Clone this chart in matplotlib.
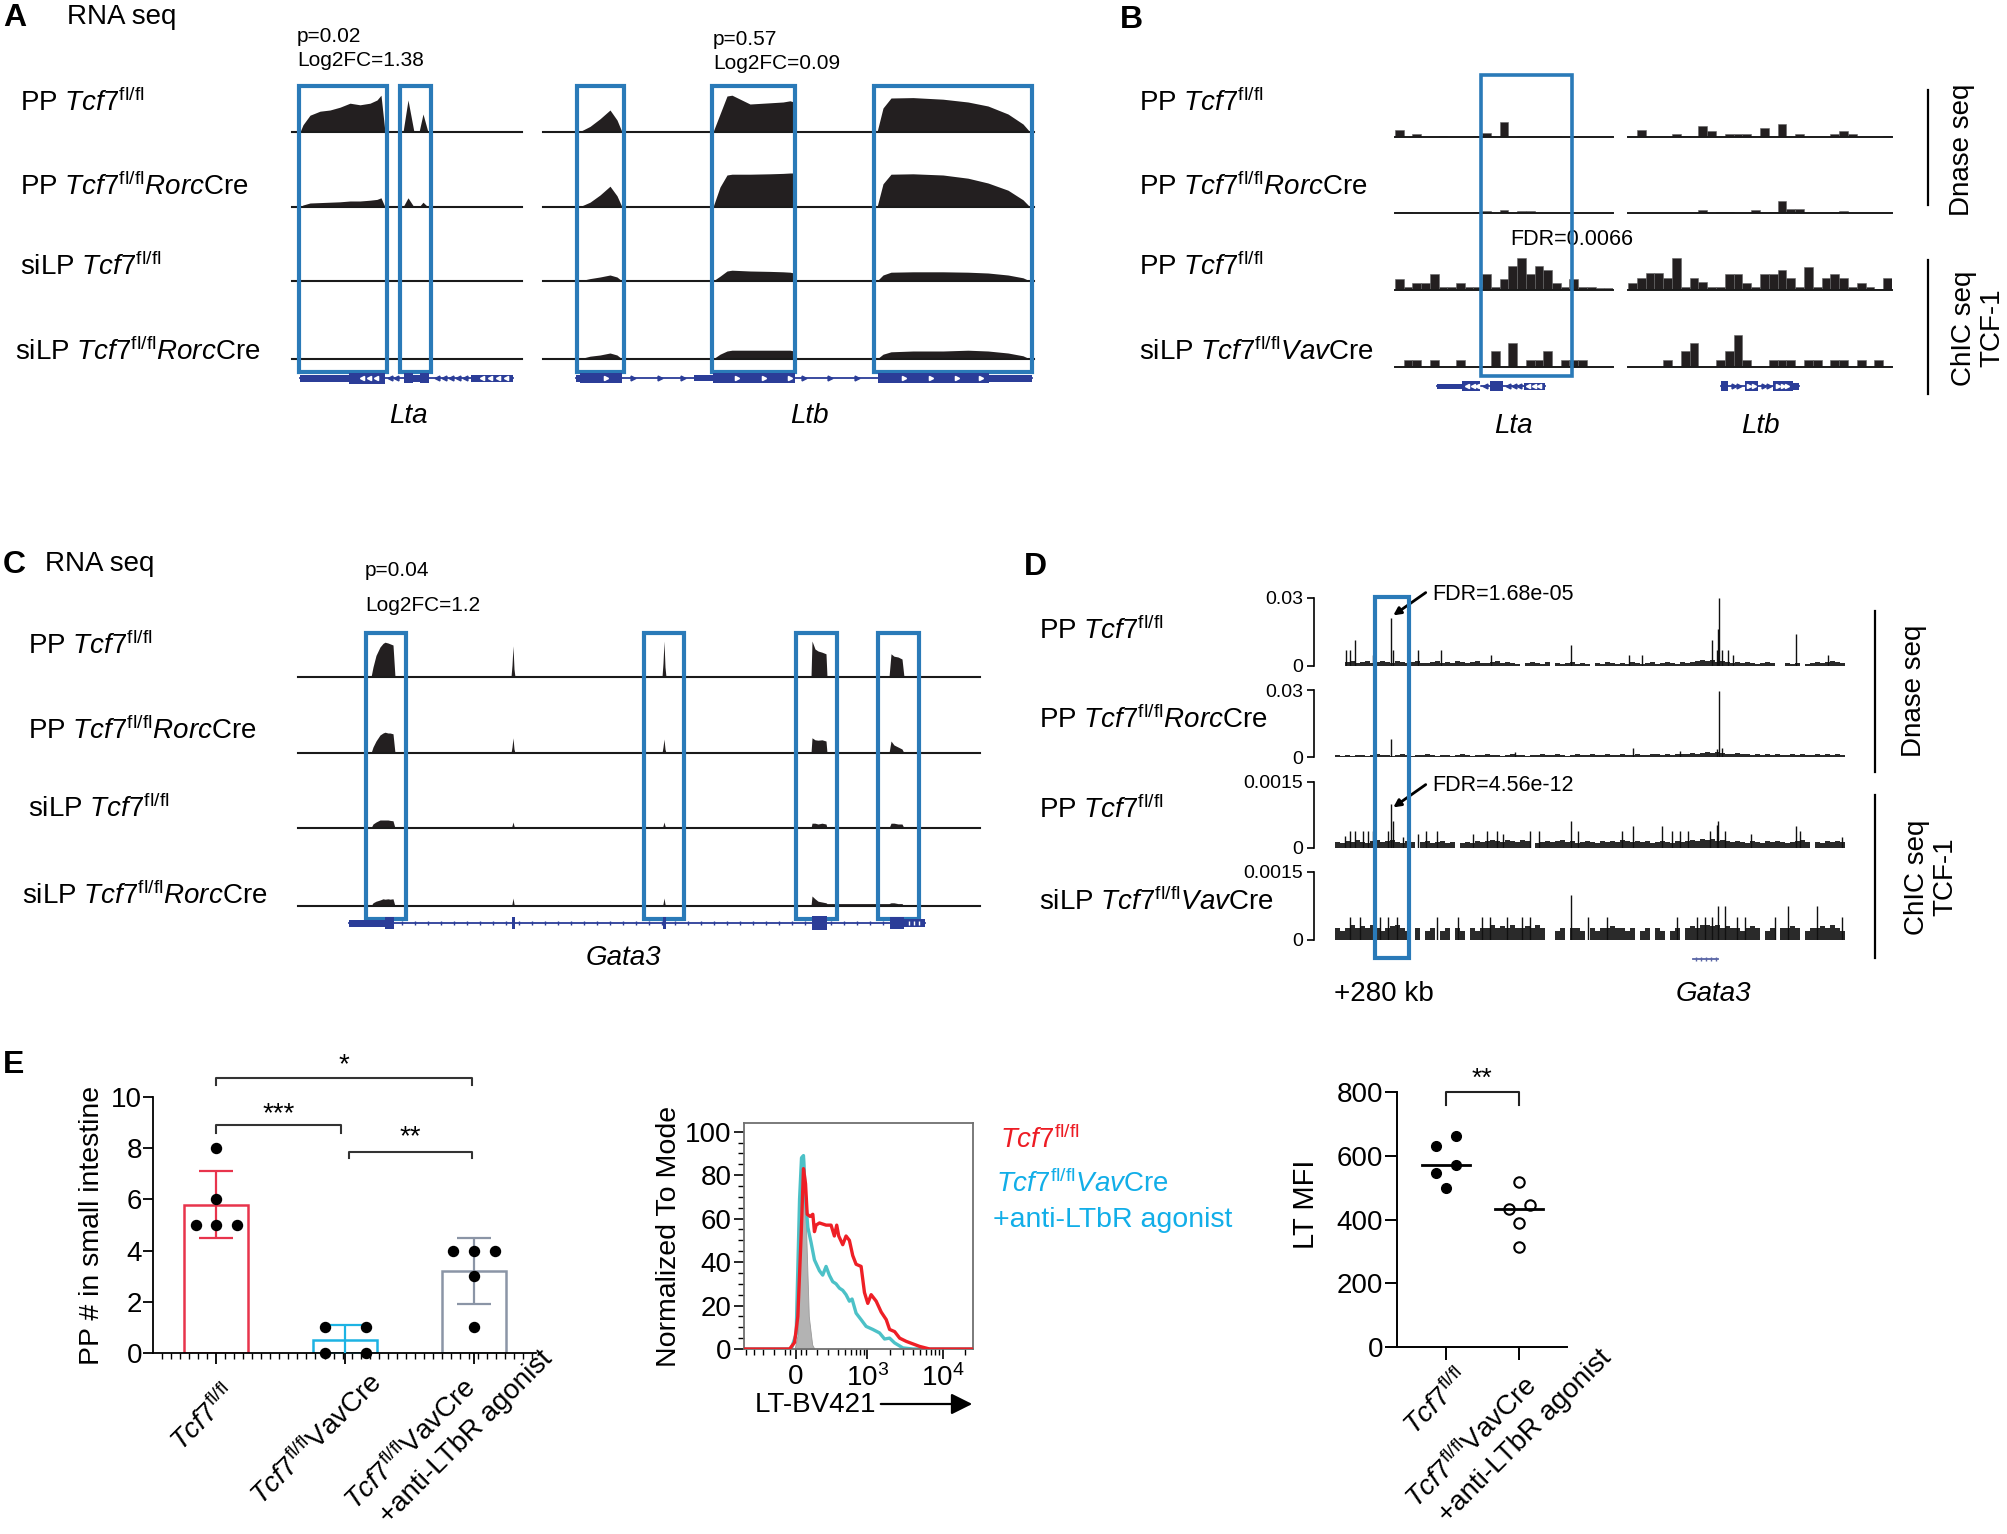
import numpy as np
import matplotlib
matplotlib.use('Agg')
import matplotlib.pyplot as plt
from matplotlib.patches import Rectangle
from matplotlib.ticker import FixedLocator

plt.rcParams['font.family'] = ['Liberation Sans', 'DejaVu Sans']
plt.rcParams['mathtext.fontset'] = 'custom'
plt.rcParams['mathtext.rm'] = 'Liberation Sans'
plt.rcParams['mathtext.it'] = 'Liberation Sans:italic'
plt.rcParams['mathtext.bf'] = 'Liberation Sans:bold'

# ---------------- labels ----------------
TCF = r'$\mathit{Tcf7}^{\mathrm{fl/fl}}$'
TCF_RORC = r'$\mathit{Tcf7}^{\mathrm{fl/fl}}\mathit{Rorc}$Cre'
TCF_VAV = r'$\mathit{Tcf7}^{\mathrm{fl/fl}}\mathit{Vav}$Cre'
LABELS_AC = ['PP ' + TCF, 'PP ' + TCF_RORC, 'siLP ' + TCF, 'siLP ' + TCF_RORC]
LABELS_BD = ['PP ' + TCF, 'PP ' + TCF_RORC, 'PP ' + TCF, 'siLP ' + TCF_VAV]

# ---------------- A: RNA seq, Lta / Ltb (normalised coverage) ----------------
LTA_POS = [8, 11, 18, 28, 38, 48, 58, 68, 78, 85, 89, 93, 111, 116, 122, 127, 131, 136]
LTA_RNA = [
    [0, .18, .42, .52, .55, .62, .72, .68, .72, .80, .92, 0, 0, .80, 0, 0, .45, 0],
    [0, .05, .10, .11, .12, .13, .15, .15, .17, .19, .23, 0, 0, .23, 0, 0, .12, 0],
    [0, .02, .03, .03, .03, .03, .03, .03, .03, .03, .03, 0, 0, .03, 0, 0, .02, 0],
    [0, .02, .02, .02, .03, .02, .03, .02, .03, .03, .03, 0, 0, .02, 0, 0, .02, 0],
]
LTB_POS = [36, 47, 57, 67, 74, 79,
           170, 177, 184, 189, 207, 227, 240, 247, 251, 252,
           334, 340, 348, 370, 400, 425, 445, 465, 480, 487]
LTB_RNA = [
    [0, .14, .33, .55, .30, 0, 0, .45, .90, .92, .70, .73, .75, .78, .75, 0,
     0, .60, .85, .86, .82, .75, .65, .45, .20, 0],
    [0, .12, .30, .52, .28, 0, 0, .50, .80, .82, .82, .83, .84, .85, .85, 0,
     0, .58, .82, .83, .80, .72, .60, .42, .18, 0],
    [0, .06, .10, .15, .10, 0, 0, .12, .25, .27, .25, .24, .23, .22, .20, 0,
     0, .15, .22, .23, .23, .22, .20, .15, .08, 0],
    [0, .07, .10, .15, .10, 0, 0, .12, .20, .22, .22, .22, .22, .22, .20, 0,
     0, .12, .18, .20, .20, .22, .20, .15, .08, 0],
]
LTA_EXONS_HL = [(7, 95), (108, 139)]
LTB_EXONS_HL = [(34, 81), (169, 252), (331, 489)]

# ---------------- B: Dnase / ChIC bins ----------------
B_LTA = [
    [7, 0, 3, 0, 0, 1, 0, 0, 0, 1, 4, 0, 15, 0, 1, 1, 1, 1, 1, 0, 0, 0, 0, 0, 0],
    [1, 1, 0, 0, 0, 0, 0, 0, 0, 1, 2, 0, 3, 0, 2, 2, 0, 0, 0, 0, 0, 0, 0, 0, 0],
    [11, 3, 7, 7, 16, 3, 3, 7, 3, 3, 16, 3, 11, 24, 32, 16, 24, 20, 7, 3, 11, 3, 3, 2, 2],
    [0, 7, 7, 0, 7, 0, 0, 7, 0, 0, 0, 16, 0, 24, 0, 7, 7, 16, 0, 7, 7, 7, 0, 0, 0],
]
B_LTB = [
    [0, 7, 0, 0, 0, 3, 1, 0, 11, 6, 0, 3, 3, 3, 0, 9, 0, 13, 0, 3, 0, 0, 0, 3, 6, 3, 0, 0, 0, 1],
    [0, 0, 0, 0, 0, 0, 0, 0, 3, 0, 1, 1, 0, 0, 3, 0, 1, 12, 4, 4, 0, 0, 0, 1, 2, 0, 0, 0, 0, 0],
    [7, 12, 17, 17, 12, 32, 3, 12, 8, 3, 3, 16, 16, 7, 3, 16, 16, 20, 12, 3, 23, 3, 12, 16, 12, 3, 7, 3, 1, 12],
    [0, 0, 0, 0, 7, 0, 16, 24, 0, 0, 7, 16, 32, 7, 0, 0, 7, 7, 7, 0, 7, 7, 0, 7, 7, 0, 7, 0, 7, 0],
]
B_LTA_HL = (9.9, 20.3)

# ---------------- C: RNA seq, Gata3 ----------------
GATA3_POS = [73, 75, 78, 82, 85, 87, 90, 92, 95, 97,
             213, 214, 215, 216, 217,
             364, 365, 366, 367, 368,
             513, 514, 517, 520, 524, 528, 529,
             591, 593, 596, 600, 604, 606]
GATA3_RNA = [
    [0, .25, .54, .75, .84, .87, .85, .83, .80, 0, 0, .30, .78, .20, 0, 0, .35, .90, .25, 0,
     0, .90, .70, .65, .62, .58, 0, 0, .58, .52, .50, .45, 0],
    [0, .15, .30, .45, .50, .52, .50, .50, .48, 0, 0, .15, .38, .10, 0, 0, .15, .35, .10, 0,
     0, .38, .33, .32, .33, .30, 0, 0, .30, .20, .15, .10, 0],
    [0, .10, .15, .20, .20, .20, .20, .19, .18, 0, 0, .05, .15, .05, 0, 0, .05, .15, .05, 0,
     0, .12, .12, .10, .12, .10, 0, 0, .12, .12, .10, .10, 0],
    [0, .08, .12, .15, .18, .17, .18, .17, .18, 0, 0, .05, .20, .05, 0, 0, .05, .20, .05, 0,
     0, .25, .18, .12, .10, .08, .06, .06, .08, .08, .06, .06, 0],
]
GATA3_EXONS_HL = [(68, 108), (346, 386), (498, 539), (580, 621)]

# ---------------- D: +280 kb region (Dnase x1e-4, ChIC x1e-5) ----------------
D1_BAND = [0, 0, 18, 22, 13, 18, 22, 13, 18, 22,
           18, 13, 22, 18, 13, 18, 22, 13, 13, 18,
           22, 13, 18, 13, 22, 18, 13, 18, 22, 13,
           13, 18, 22, 13, 18, 13, 9, 0, 13, 18,
           13, 9, 18, 0, 13, 9, 13, 18, 9, 13,
           9, 0, 13, 9, 18, 13, 9, 13, 9, 18,
           13, 9, 13, 18, 9, 13, 18, 13, 9, 18,
           13, 18, 22, 26, 22, 26, 18, 22, 18, 13,
           18, 13, 18, 13, 9, 13, 18, 13, 0, 0,
           13, 9, 13, 0, 9, 13, 18, 13, 18, 22,
           18, 13]
D1_SPK_POS = [11, 15, 20, 38, 56, 58, 83, 106, 156, 236, 294, 307, 377, 382, 383, 384, 387, 393, 398, 461, 493]
D1_SPK_H = [71, 71, 115, 49, 212, 71, 71, 71, 49, 93, 49, 49, 115, 71, 163, 300, 71, 71, 49, 141, 49]
D2_BAND = [9, 4, 9, 4, 9, 9, 4, 9, 13, 9,
           9, 4, 9, 13, 9, 4, 9, 9, 13, 9,
           4, 9, 9, 4, 9, 13, 9, 4, 9, 9,
           13, 9, 9, 4, 9, 13, 9, 9, 4, 9,
           9, 13, 9, 9, 13, 9, 4, 9, 13, 9,
           9, 13, 9, 9, 13, 9, 9, 13, 9, 9,
           13, 9, 9, 13, 13, 9, 13, 9, 13, 13,
           13, 18, 13, 18, 22, 18, 22, 18, 13, 13,
           18, 13, 13, 9, 13, 9, 13, 9, 13, 9,
           9, 13, 9, 13, 9, 9, 13, 9, 13, 9,
           13, 9]
D2_SPK_POS = [56, 180, 298, 345, 382, 384, 387]
D2_SPK_H = [79, 22, 40, 26, 35, 295, 40]
D3_BAND = [14, 11, 16, 14, 18, 14, 11, 16, 18, 14,
           16, 18, 14, 11, 16, 14, 0, 14, 16, 11,
           14, 16, 11, 14, 0, 11, 14, 11, 16, 14,
           16, 18, 16, 14, 18, 16, 14, 18, 16, 0,
           11, 14, 16, 14, 16, 18, 14, 16, 11, 14,
           16, 14, 11, 16, 14, 16, 14, 18, 16, 14,
           16, 14, 16, 11, 14, 16, 14, 11, 16, 14,
           16, 18, 16, 20, 18, 20, 16, 18, 16, 14,
           16, 14, 11, 16, 14, 11, 16, 14, 16, 14,
           11, 14, 16, 18, 14, 0, 14, 11, 16, 14,
           16, 14]
D3_SPK_POS = [10, 15, 20, 28, 33, 38, 53, 56, 58, 68, 83, 91, 102, 138, 152, 162, 168, 195, 204,
              236, 243, 287, 298, 327, 337, 345, 353, 375, 382, 383, 390, 416, 461, 465, 507]
D3_SPK_H = [27, 39, 39, 39, 39, 39, 39, 100, 61, 25, 32, 39, 39, 32, 39, 39, 32, 39, 39,
            61, 39, 39, 50, 50, 39, 39, 39, 39, 52, 61, 39, 32, 50, 39, 25]
D4_BAND = [27, 20, 27, 32, 27, 30, 27, 32, 27, 20,
           27, 30, 32, 27, 20, 0, 27, 0, 20, 27,
           0, 20, 27, 0, 27, 20, 0, 27, 20, 27,
           27, 32, 27, 30, 27, 32, 27, 27, 30, 27,
           32, 27, 0, 0, 20, 27, 0, 27, 27, 20,
           0, 27, 20, 27, 27, 30, 27, 27, 20, 27,
           0, 20, 27, 0, 27, 20, 0, 20, 27, 0,
           27, 30, 27, 32, 32, 30, 32, 27, 30, 27,
           27, 20, 27, 30, 27, 0, 20, 27, 0, 27,
           27, 30, 27, 0, 20, 27, 27, 30, 27, 32,
           27, 20]
D4_SPK_POS = [15, 25, 45, 53, 62, 102, 123, 147, 155, 172, 187, 195, 236, 253, 272,
              342, 362, 370, 377, 383, 390, 402, 410, 440, 453, 482, 507]
D4_SPK_H = [50, 50, 50, 50, 50, 50, 50, 50, 50, 50, 50, 50, 100, 50, 50,
            50, 50, 50, 50, 75, 75, 50, 50, 50, 75, 75, 50]
D_HL = (40, 74)

# ---------------- E ----------------
E_GROUPS = [TCF, TCF + 'VavCre', TCF + 'VavCre\n+anti-LTbR agonist']
PP_COUNTS = [[8, 6, 5, 5, 5], [1, 1, 0, 0], [4, 4, 4, 3, 1]]
E_COLORS = ['#e8344c', '#1db3e3', '#8b95a6']

HIST_RED_X = [-536, -55, -9, 21, 52, 73, 92, 107, 134, 159, 174, 189, 220, 281, 328, 363, 390, 415,
              469, 519, 575, 637, 706, 823, 912, 1010, 1119, 1306, 1523, 1777, 1969, 2297, 2680,
              3280, 4930, 6710, 25300]
HIST_RED_Y = [0, 0, 3, 15, 53, 83, 76, 62, 61, 62, 54, 57, 58, 57, 57, 52, 57, 52,
              48, 52, 50, 43, 39, 38, 26, 21, 25, 22, 17, 13.5, 9, 8, 5,
              3.5, 1.2, 0, 0]
HIST_CYAN_X = [-536, -40, 6, 37, 55, 73, 92, 113, 143, 174, 220, 250, 281, 311, 345, 382, 424,
               469, 519, 575, 624, 706, 823, 960, 1177, 1447, 1688, 1969, 2297, 2960, 4020, 25300]
HIST_CYAN_Y = [0, 0, 7, 69, 88, 89, 69, 56, 49, 41, 36, 34, 38, 34, 31, 30, 28,
               27, 25, 22, 23, 16.5, 13.5, 10.4, 9, 7.4, 4.6, 5, 2.8, 0.5, 0, 0]
HIST_GRAY_X = [-9, 21, 43, 61, 79, 98, 122, 153, 174]
HIST_GRAY_Y = [0, 7, 53, 86, 88, 53, 15, 2, 0]

MFI_GROUPS = [TCF, TCF + 'VavCre\n+anti-LTbR agonist']
MFI_CTRL = [632, 661, 572, 546, 500]
MFI_AGON = [517, 432, 444, 388, 313]
MFI_CTRL_DX = [-0.14, 0.14, 0.14, -0.14, 0.0]
MFI_AGON_DX = [0.0, -0.14, 0.155, 0.0, 0.0]

# ---------------- figure ----------------
W, H = 2007, 1534
fig = plt.figure(figsize=(W / 100, H / 100), dpi=100)
BOX_BLUE = '#2a7ab8'
GENE_BLUE = '#2b3d98'
COV = '#231f20'
LAB = 20


def px_axes(x0, y0, x1, y1):
    return fig.add_axes([x0 / W, 1 - y1 / H, (x1 - x0) / W, (y1 - y0) / H])


ov = px_axes(0, 0, W, H)
ov.set_xlim(0, W)
ov.set_ylim(H, 0)
ov.axis('off')


def T(x, y, s, size=LAB, **kw):
    ov.text(x, y, s, fontsize=size, **kw)


def blank(ax, xlim, ylim):
    ax.set_xlim(*xlim)
    ax.set_ylim(*ylim)
    ax.axis('off')
    return ax


def rna_group(x0, x1, xlim, pos, tracks, bases):
    for h, base in zip(tracks, bases):
        ax = blank(px_axes(x0, base - 48, x1, base), xlim, (0, 1.2))
        ax.fill_between(pos, 0, h, color=COV, lw=0)
        ax.axhline(0, color='#1a1a1a', lw=1.5, clip_on=False)


def bin_group(x0, x1, tracks, bases):
    n = len(tracks[0])
    for h, base in zip(tracks, bases):
        ax = blank(px_axes(x0, base - 36, x1, base), (0, n), (0, 36))
        ax.bar(np.arange(n), h, width=1, align='edge', color=COV, ec='#666', lw=0.4)
        ax.axhline(0, color='#1a1a1a', lw=1.4, clip_on=False)


def highlight(x0, x1, xlim, top, bot, spans, lw=3.0):
    ax = blank(px_axes(x0, top, x1, bot), xlim, (0, 1))
    for s, e in spans:
        ax.add_patch(Rectangle((s, 0), e - s, 1, fill=False, ec=BOX_BLUE, lw=lw, clip_on=False))


def gene(x0, x1, y, xlim, line, blocks, ticks=(), chev=(), mk='<', color=GENE_BLUE):
    ax = blank(px_axes(x0, y - 12, x1, y + 12), xlim, (-12, 12))
    ax.plot(line, [0, 0], color=color, lw=1.3)
    for s, e, h in blocks:
        ax.add_patch(Rectangle((s, -h / 2), e - s, h, color=color, lw=0))
    if len(ticks):
        ax.plot(ticks, np.zeros(len(ticks)), ls='none', marker=mk, ms=3.5, color=color)
    if len(chev):
        ax.plot(chev, np.zeros(len(chev)), ls='none', marker=mk, ms=3, color='white')


def side_bracket(x, y0, y1, tx, ty, s):
    ov.plot([x, x], [y0, y1], color='k', lw=1.6)
    T(tx, ty, s, 20, rotation=90, ha='center', va='center', multialignment='center',
      linespacing=1.1)


def rotated_label(lines, anchors, size=20):
    for line, (x, y) in zip(lines, anchors):
        T(x, y, line, size, rotation=45, rotation_mode='anchor', ha='right', va='top')


# ======== panel A ========
T(3, 26, 'A', 23, weight='bold')
T(67, 24, 'RNA seq')
T(297, 42, 'p=0.02', 15)
T(297, 66, 'Log2FC=1.38', 15)
T(713, 45, 'p=0.57', 15)
T(713, 69, 'Log2FC=0.09', 15)
A_BASES = [132, 207, 281, 359]
for lab, y, x in zip(LABELS_AC, [111, 195, 275, 360], [20, 20, 20, 15]):
    T(x, y, lab)
rna_group(292, 522, (0, 230), LTA_POS, LTA_RNA, A_BASES)
rna_group(543, 1034, (0, 491), LTB_POS, LTB_RNA, A_BASES)
highlight(292, 522, (0, 230), 86, 372, LTA_EXONS_HL)
highlight(543, 1034, (0, 491), 86, 372, LTB_EXONS_HL)
gene(292, 522, 378, (0, 230), [8, 221],
     [(8, 57, 7), (57, 93, 11), (112, 121, 10), (121, 128, 7), (128, 137, 10), (179, 221, 7)],
     ticks=[98, 104, 145, 152, 159, 166, 173], chev=[70, 77, 84, 190, 198, 206, 214])
gene(543, 1034, 378, (0, 491), [33, 489],
     [(33, 37, 7), (37, 79, 10), (151, 170, 6), (170, 252, 10), (335, 446, 10), (446, 489, 7)],
     ticks=[90, 117, 140, 261, 287, 314], chev=[63, 194, 221, 247, 361, 388, 414, 438], mk='>')
T(408, 423, 'Lta', style='italic', ha='center')
T(809, 423, 'Ltb', style='italic', ha='center')

# ======== panel B ========
T(1120, 28, 'B', 23, weight='bold')
B_BASES = [137, 213, 290, 367]
for lab, y in zip(LABELS_BD, [111, 195, 275, 360]):
    T(1139, y, lab)
bin_group(1395, 1613, B_LTA, B_BASES)
bin_group(1628, 1892, B_LTB, B_BASES)
highlight(1395, 1613, (0, 25), 75, 376, [B_LTA_HL], lw=2.6)
T(1510, 245, 'FDR=0.0066', 15.5)
gene(1395, 1613, 386, (0, 25), [4.8, 17.2],
     [(4.8, 7.7, 5), (7.7, 9.75, 10), (10.9, 12.4, 10), (14.8, 17.2, 7)],
     ticks=[10.3, 13.0, 13.6, 14.2], chev=[8.3, 8.9, 9.4, 15.3, 15.9, 16.5])
gene(1628, 1892, 386, (0, 30), [10.6, 19.4],
     [(10.6, 11.4, 10), (13.3, 14.8, 10), (16.5, 18.75, 10), (18.75, 19.4, 7)],
     ticks=[12.0, 12.6, 15.4, 16.0], chev=[13.8, 14.3, 17.1, 17.6, 18.1], mk='>')
T(1513, 433, 'Lta', style='italic', ha='center')
T(1760, 433, 'Ltb', style='italic', ha='center')
side_bracket(1928, 90, 205, 1962, 150, 'Dnase seq')
side_bracket(1928, 260, 394, 1978, 328, 'ChIC seq\nTCF-1')

# ======== panel C ========
T(3, 573, 'C', 23, weight='bold')
T(45, 571, 'RNA seq')
T(365, 576, 'p=0.04', 15)
T(365, 611, 'Log2FC=1.2', 15)
for lab, y, x in zip(LABELS_AC, [654, 739, 817, 904], [28, 28, 28, 22]):
    T(x, y, lab)
rna_group(298, 980, (0, 682), GATA3_POS, GATA3_RNA, [677, 753, 828, 906])
highlight(298, 980, (0, 682), 633, 919, GATA3_EXONS_HL)
gene(298, 980, 923, (0, 682), [51, 627],
     [(51, 87, 7), (87, 96, 12), (214, 216.5, 12), (365, 367.5, 12), (514, 529, 14),
      (592, 606, 12), (606, 627, 8)],
     ticks=np.arange(104, 590, 13), mk='|', chev=[611, 616, 621])
T(623, 965, 'Gata3', style='italic', ha='center')

# ======== panel D ========
T(1024, 575, 'D', 23, weight='bold')
for lab, y in zip(LABELS_BD, [639, 728, 818, 910]):
    T(1039, y, lab)
D_TRACKS = [
    (598, 666, 0.03, '0.03', D1_BAND, D1_SPK_POS, D1_SPK_H, 1e-4),
    (690, 757, 0.03, '0.03', D2_BAND, D2_SPK_POS, D2_SPK_H, 1e-4),
    (782, 848, 0.0015, '0.0015', D3_BAND, D3_SPK_POS, D3_SPK_H, 1e-5),
    (872, 940, 0.0015, '0.0015', D4_BAND, D4_SPK_POS, D4_SPK_H, 1e-5),
]
for top, base, ymax, lab, band, sp, sh, unit in D_TRACKS:
    ax = px_axes(1335, top, 1845, base)
    ax.set_xlim(0, 510)
    ax.set_ylim(0, ymax)
    centers = np.arange(len(band)) * 5 + 2.5
    ax.bar(centers, np.array(band) * unit, width=4.2, color='#2a2a2a', lw=0)
    ax.vlines(sp, 0, np.array(sh) * unit, color='#111111', lw=1.0)
    for s in ['top', 'right', 'bottom']:
        ax.spines[s].set_visible(False)
    ax.patch.set_visible(False)
    ax.spines['left'].set_position(('outward', 15))
    ax.spines['left'].set_linewidth(1.2)
    ax.set_xticks([])
    ax.set_yticks([0, ymax])
    ax.set_yticklabels(['0', lab])
    ax.tick_params(axis='y', length=5, width=1.2, labelsize=14, pad=3)
highlight(1335, 1845, (0, 510), 597, 958, [D_HL], lw=3.0)
T(1432, 600, 'FDR=1.68e-05', 15.5)
T(1432, 791, 'FDR=4.56e-12', 15.5)
for (x0, y0, x1, y1) in [(1428, 591, 1391, 617), (1428, 783, 1391, 809)]:
    ov.annotate('', xy=(x1, y1), xytext=(x0, y0),
                arrowprops=dict(arrowstyle='-|>', lw=2.0, color='k', mutation_scale=11))
gene(1335, 1845, 959, (0, 510), [358, 383], [], ticks=[361, 366, 371, 376, 381], mk='|',
     color='#5a66a6')
T(1334, 1001, '+280 kb')
T(1713, 1001, 'Gata3', style='italic', ha='center')
side_bracket(1875, 611, 772, 1914, 691, 'Dnase seq')
side_bracket(1875, 795, 958, 1931, 877, 'ChIC seq\nTCF-1')

# ======== panel E: PP counts ========
T(3, 1073, 'E', 23, weight='bold')
ax = px_axes(153, 1097, 536, 1353)
xs = np.arange(len(PP_COUNTS))
means = [np.mean(v) for v in PP_COUNTS]
sds = [np.std(v, ddof=1) for v in PP_COUNTS]
ax.bar(xs, means, width=0.5, facecolor='white', edgecolor=E_COLORS, lw=1.8, zorder=2)
for x, m, sd, c, vals in zip(xs, means, sds, E_COLORS, PP_COUNTS):
    ax.errorbar(x, m, yerr=sd, color=c, lw=1.6, capsize=12, capthick=1.6, zorder=3)
    vals = np.array(vals)
    for v in np.unique(vals):
        n = np.sum(vals == v)
        offs = [-0.16, 0.16] if n == 2 else (np.arange(n) - (n - 1) / 2) * 0.16
        ax.plot(x + np.array(offs), [v] * n, 'o', color='black', ms=7.2, zorder=4,
                clip_on=False)
ax.set_xlim(-0.49, 2.48)
ax.set_ylim(0, 10)
for s in ['top', 'right']:
    ax.spines[s].set_visible(False)
for s in ['left', 'bottom']:
    ax.spines[s].set_linewidth(1.3)
ax.set_yticks([0, 2, 4, 6, 8, 10])
ax.set_xticks(xs)
ax.set_xticklabels([])
ax.xaxis.set_minor_locator(FixedLocator(np.arange(-0.42, 2.48, 0.07)))
ax.tick_params(axis='y', length=7, width=1.3, labelsize=20, pad=1)
ax.tick_params(axis='x', which='major', length=8, width=1.3)
ax.tick_params(axis='x', which='minor', length=4, width=1.0)
ax.set_ylabel('PP # in small intestine', fontsize=20.5)
ax.yaxis.set_label_coords(-0.125, 0.5)
for xa, xb, y, d, star, ys in [(0, 1.98, 10.74, 0.26, '*', 10.98),
                               (0, 0.97, 8.9, 0.3, '***', 9.05),
                               (1.03, 1.98, 7.85, 0.25, '**', 8.14)]:
    ax.plot([xa, xa, xb, xb], [y - d, y, y, y - d], color='#333', lw=1.5, clip_on=False)
    ax.text((xa + xb) / 2, ys, star, ha='center', va='baseline', fontsize=20)
e_anchor = [[(222, 1380)], [(368, 1368)], [(462, 1373), (539, 1346)]]
for lab, anchors in zip(E_GROUPS, e_anchor):
    rotated_label(lab.split('\n'), anchors)

# ======== histogram ========
ax = px_axes(744, 1123, 973, 1349)
ax.set_xscale('symlog', linthresh=300, linscale=0.39)
ax.fill_between(HIST_GRAY_X, 0, HIST_GRAY_Y, color='#b3b3b3', ec='#9a9a9a', lw=0.6, zorder=1)
ax.plot(HIST_CYAN_X, HIST_CYAN_Y, color='#4cc1c7', lw=2.4, zorder=2)
ax.plot(HIST_RED_X, HIST_RED_Y, color='#ee1f26', lw=2.4, zorder=3)
ax.set_xlim(-536, 25300)
ax.set_ylim(0, 104)
for s in ax.spines.values():
    s.set_color('#707070')
    s.set_linewidth(1.3)
ax.set_xticks([0, 1000, 10000])
ax.set_xticklabels(['0', r'$10^3$', r'$10^4$'])
ax.xaxis.set_minor_locator(FixedLocator(
    [-500, -400, -300, -200, -100, -50, 50, 100, 200, 300, 400, 500, 600, 700, 800, 900,
     2000, 3000, 4000, 5000, 6000, 7000, 8000, 9000, 20000]))
ax.set_yticks([0, 20, 40, 60, 80, 100])
ax.yaxis.set_minor_locator(FixedLocator(np.arange(0, 101, 5)))
ax.tick_params(axis='both', which='major', length=7, width=1.2, labelsize=20, pad=2)
ax.tick_params(axis='both', which='minor', length=4, width=1.0)
ax.tick_params(axis='x', which='major', pad=4)
ax.set_ylabel('Normalized To Mode', fontsize=20.5)
ax.yaxis.set_label_coords(-0.27, 0.5)
T(755, 1412, 'LT-BV421', 20)
ov.annotate('', xy=(975, 1404), xytext=(878, 1404),
            arrowprops=dict(arrowstyle='-|>', lw=1.6, color='k', mutation_scale=32))
T(1000, 1148, TCF, 20, color='#ed1c24')
T(996, 1192, TCF_VAV, 20, color='#12aee8')
T(993, 1227, '+anti-LTbR agonist', 20.5, color='#12aee8')

# ======== LT MFI ========
ax = px_axes(1397, 1092, 1567, 1347)
ax.plot(1 + np.array(MFI_CTRL_DX), MFI_CTRL, 'o', color='black', ms=7, clip_on=False)
ax.plot(2 + np.array(MFI_AGON_DX), MFI_AGON, 'o', mfc='white', mec='black', mew=1.5, ms=7.5,
        clip_on=False)
for x, vals in [(1, MFI_CTRL), (2, MFI_AGON)]:
    ax.plot([x - 0.33, x + 0.33], [np.median(vals)] * 2, color='black', lw=2.0)
ax.set_xlim(0.33, 2.66)
ax.set_ylim(0, 800)
for s in ['top', 'right']:
    ax.spines[s].set_visible(False)
for s in ['left', 'bottom']:
    ax.spines[s].set_linewidth(1.4)
ax.set_yticks([0, 200, 400, 600, 800])
ax.set_xticks([1, 2])
ax.set_xticklabels([])
ax.tick_params(axis='both', length=9, width=1.4, labelsize=20, pad=1)
ax.set_ylabel('LT MFI', fontsize=21)
ax.yaxis.set_label_coords(-0.45, 0.56)
ax.plot([1, 1, 2, 2], [758, 800, 800, 758], color='#222', lw=1.5, clip_on=False)
ax.text(1.5, 819, '**', ha='center', va='baseline', fontsize=19)
m_anchor = [[(1455, 1364)], [(1523, 1371), (1598, 1345)]]
for lab, anchors in zip(MFI_GROUPS, m_anchor):
    rotated_label(lab.split('\n'), anchors)

fig.savefig('out.png', dpi=100)
